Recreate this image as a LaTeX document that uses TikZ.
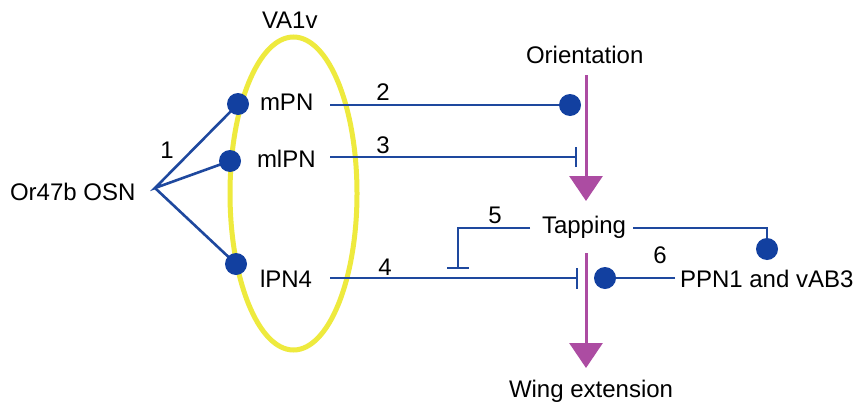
\documentclass[tikz,border=0pt]{standalone}
\usepackage{fontspec}
\setmainfont{Liberation Sans}
\usetikzlibrary{arrows.meta,backgrounds}
\definecolor{nblue}{RGB}{30,72,158}
\definecolor{dblue}{RGB}{18,64,160}
\definecolor{nmag}{RGB}{172,76,162}
\definecolor{nyel}{RGB}{238,234,62}
\begin{document}
\begin{tikzpicture}[x=1pt,y=-1pt,
  lbl/.style={anchor=base west,inner sep=0pt,outer sep=0pt,font=\fontsize{24}{28}\selectfont},
  num/.style={anchor=base,inner sep=0pt,outer sep=0pt,font=\fontsize{24}{28}\selectfont},
  dot/.style={circle,fill=dblue,draw=none,minimum size=22pt,inner sep=0pt},
  conn/.style={draw=nblue,line width=2.6pt},
  beh/.style={draw=nmag,line width=3pt,-{Triangle[width=33pt,length=25pt]}}]
\useasboundingbox (0,0) rectangle (866,415);
% labels
\node[lbl] (va) at (262,28) {VA1v};
\node[lbl] (osn) at (10,200) {Or47b OSN};
\node[lbl] (mpn) at (260,110) {mPN};
\node[lbl] (mlpn) at (257,167) {mlPN};
\node[lbl] (lpn) at (260,287) {lPN4};
\node[lbl] (ori) at (526,63) {Orientation};
\node[lbl] (tap) at (542,233) {Tapping};
\node[lbl] (wing) at (509,397) {Wing extension};
\node[lbl] (ppn) at (680,287) {PPN1 and vAB3};
\node[num] (n1) at (167,158) {1};
\node[num] (n2) at (383,100) {2};
\node[num] (n3) at (383,153) {3};
\node[num] (n4) at (385,275) {4};
\node[num] (n5) at (495,223) {5};
\node[num] (n6) at (660,263) {6};
% dots
\node[dot] (dm) at (238,104) {};
\node[dot] (dml) at (230,161) {};
\node[dot] (dl) at (236,264) {};
\node[dot] (do) at (570,105) {};
\node[dot] (dp) at (767,249) {};
\node[dot] (dw) at (605,278) {};
% coordinates
\coordinate (conv) at (155,188);
\coordinate (a1s) at (586,75);
\coordinate (a1e) at (586,201);
\coordinate (a2s) at (586,253);
\coordinate (a2e) at (586,368);
\coordinate (s2) at (330,105);
\coordinate (s3) at (330,157);
\coordinate (e3) at (576,157);
\coordinate (s4) at (330,278);
\coordinate (e4) at (577,278);
\coordinate (s5) at (530,228);
\coordinate (c5) at (458,228);
\coordinate (e5) at (458,268);
\coordinate (s6) at (633,228);
\coordinate (c6) at (767,228);
\coordinate (e7) at (675,278);
\begin{scope}[on background layer]
\fill[white] (0,0) rectangle (866,415);
\draw[nyel,line width=5pt] (293.5,193.5) ellipse [x radius=63.5,y radius=156.5];
\draw[conn] (dm.center) -- (conv) -- (dml.center);
\draw[conn] (conv) -- (dl.center);
\draw[conn] (s2) -- (do.center);
\draw[conn] (s3) -- (e3);
\draw[conn] ([yshift=-10]e3) -- ([yshift=10]e3);
\draw[conn] (s4) -- (e4);
\draw[conn] ([yshift=-10.5]e4) -- ([yshift=10.5]e4);
\draw[conn] (s5) -- (c5) -- (e5);
\draw[conn] ([xshift=-11]e5) -- ([xshift=11]e5);
\draw[conn] (s6) -- (c6) -- (dp.center);
\draw[conn] (e7) -- (dw.center);
\draw[beh] (a1s) -- (a1e);
\draw[beh] (a2s) -- (a2e);
\end{scope}
\end{tikzpicture}
\end{document}
